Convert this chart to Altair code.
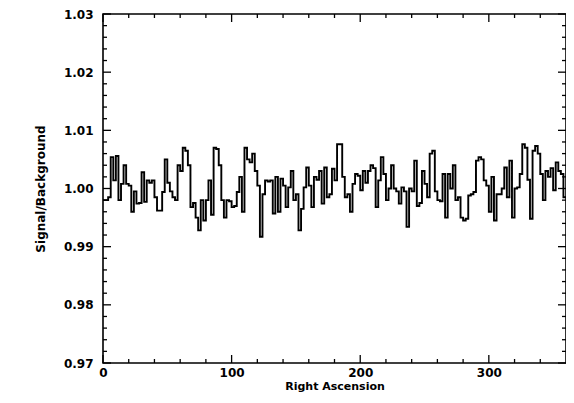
import altair as alt
import pandas as pd

# Right Ascension bin starts (2 degree bins)
ra_bins = list(range(0, 360, 2))

# Signal/Background per bin
ratio = [
    0.9980, 0.9980, 0.9985, 1.0054, 1.0014, 1.0056, 0.9980, 1.0008, 1.0040, 1.0008,   # 0-18
    1.0005, 0.9960, 0.9995, 0.9974, 0.9975, 1.0028, 0.9977, 1.0014, 1.0010, 1.0014,   # 20-38
    0.9985, 0.9962, 0.9962, 0.9994, 1.0050, 1.0010, 0.9995, 0.9985, 0.9980, 1.0040,   # 40-58
    1.0030, 1.0070, 1.0065, 1.0040, 0.9968, 0.9975, 0.9950, 0.9928, 0.9980, 0.9945,   # 60-78
    0.9980, 1.0014, 0.9955, 1.0070, 1.0068, 1.0040, 0.9980, 0.9950, 0.9980, 0.9978,   # 80-98
    0.9968, 0.9970, 0.9994, 1.0020, 0.9960, 1.0070, 1.0050, 1.0045, 1.0060, 1.0030,   # 100-118
    1.0005, 0.9917, 0.9990, 1.0014, 1.0012, 1.0014, 0.9957, 1.0020, 0.9960, 1.0017,   # 120-138
    1.0005, 0.9968, 1.0002, 1.0030, 0.9980, 0.9990, 0.9928, 0.9965, 1.0002, 1.0036,   # 140-158
    1.0005, 0.9968, 1.0020, 1.0015, 1.0030, 0.9974, 1.0036, 0.9985, 0.9990, 1.0034,   # 160-178
    1.0014, 1.0076, 1.0076, 1.0020, 0.9985, 0.9990, 0.9960, 1.0008, 1.0025, 1.0022,   # 180-198
    0.9997, 1.0030, 1.0010, 1.0030, 1.0040, 1.0035, 0.9968, 1.0014, 1.0054, 1.0025,   # 200-218
    0.9980, 1.0000, 1.0040, 1.0000, 0.9995, 0.9974, 1.0002, 0.9995, 0.9934, 1.0000,   # 220-238
    0.9995, 1.0048, 0.9970, 0.9975, 1.0030, 1.0008, 0.9985, 1.0060, 1.0065, 0.9995,   # 240-258
    0.9980, 0.9978, 1.0025, 0.9950, 1.0025, 1.0000, 1.0040, 0.9980, 0.9985, 0.9950,   # 260-278
    0.9945, 0.9948, 0.9988, 0.9990, 0.9994, 1.0048, 1.0054, 1.0050, 1.0014, 1.0005,   # 280-298
    0.9960, 1.0020, 0.9945, 0.9990, 0.9990, 1.0000, 1.0036, 0.9985, 1.0048, 0.9950,   # 300-318
    1.0000, 1.0002, 1.0025, 1.0076, 1.0070, 1.0015, 0.9948, 1.0065, 1.0073, 1.0060,   # 320-338
    1.0025, 0.9980, 1.0030, 1.0020, 1.0035, 0.9997, 1.0045, 1.0030, 1.0025, 0.9985,   # 340-358
]

x_ticks = [0, 100, 200, 300]
x_minor = [20, 40, 60, 80, 120, 140, 160, 180, 220, 240, 260, 280, 320, 340]
y_ticks = [0.97, 0.98, 0.99, 1.00, 1.01, 1.02, 1.03]
y_minor = [0.972, 0.974, 0.976, 0.978, 0.982, 0.984, 0.986, 0.988,
           0.992, 0.994, 0.996, 0.998, 1.002, 1.004, 1.006, 1.008,
           1.012, 1.014, 1.016, 1.018, 1.022, 1.024, 1.026, 1.028]

W, H = 463, 349
FONT = "DejaVu Sans"

df = pd.DataFrame({"ra": ra_bins + [360], "sb": ratio + [ratio[-1]]})

xscale = alt.Scale(domain=[0, 360], nice=False, zero=False)
yscale = alt.Scale(domain=[0.97, 1.03], nice=False, zero=False)

x_axis = alt.Axis(
    values=x_ticks, format="d", title="Right Ascension", ticks=False,
    domain=False, grid=False, labelFont=FONT, labelFontSize=12,
    labelFontWeight="bold", labelColor="black", labelPadding=4,
    titleFont=FONT, titleFontSize=11, titleFontWeight="bold",
    titleColor="black", titleY=17, labelFlush=False)
y_axis = alt.Axis(
    values=y_ticks, format=".2f", title="Signal/Background", ticks=False,
    domain=False, grid=False, labelFont=FONT, labelFontSize=12,
    labelFontWeight="bold", labelColor="black", labelPadding=10,
    titleFont=FONT, titleFontSize=12, titleFontWeight="bold",
    titleColor="black", titleX=-63, titleY=H / 2, titleAngle=-90,
    titleBaseline="middle", titleAlign="center", labelFlush=False)

line = alt.Chart(df).mark_line(
    interpolate="step-after", color="black", strokeWidth=1.9
).encode(
    x=alt.X("ra:Q", scale=xscale, axis=x_axis),
    y=alt.Y("sb:Q", scale=yscale, axis=y_axis),
)

ymaj = pd.DataFrame({"sb": y_ticks})
ymin = pd.DataFrame({"sb": y_minor})
xmaj = pd.DataFrame({"ra": x_ticks})
xmin = pd.DataFrame({"ra": x_minor})


def yrules(d, L):
    left = alt.Chart(d).mark_rule(color="black", strokeWidth=1.3).encode(
        y=alt.Y("sb:Q", scale=yscale, axis=y_axis), x=alt.value(0), x2=alt.value(L))
    right = alt.Chart(d).mark_rule(color="black", strokeWidth=1.3).encode(
        y=alt.Y("sb:Q", scale=yscale, axis=y_axis), x=alt.value(W - L), x2=alt.value(W))
    return [left, right]


def xrules(d, L):
    bottom = alt.Chart(d).mark_rule(color="black", strokeWidth=1.3).encode(
        x=alt.X("ra:Q", scale=xscale, axis=x_axis), y=alt.value(H), y2=alt.value(H - L))
    top = alt.Chart(d).mark_rule(color="black", strokeWidth=1.3).encode(
        x=alt.X("ra:Q", scale=xscale, axis=x_axis), y=alt.value(0), y2=alt.value(L))
    return [bottom, top]


layers = [line] + yrules(ymaj, 8) + yrules(ymin, 4) + xrules(xmaj, 8) + xrules(xmin, 4)

chart = alt.layer(*layers).properties(
    width=W, height=H,
    autosize=alt.AutoSizeParams(type="none"),
    padding={"left": 95, "top": 6, "right": 0, "bottom": 30},
).configure_view(stroke="black", strokeWidth=1.6)

chart.save("out.html", embed_options={"renderer": "svg", "actions": False})
